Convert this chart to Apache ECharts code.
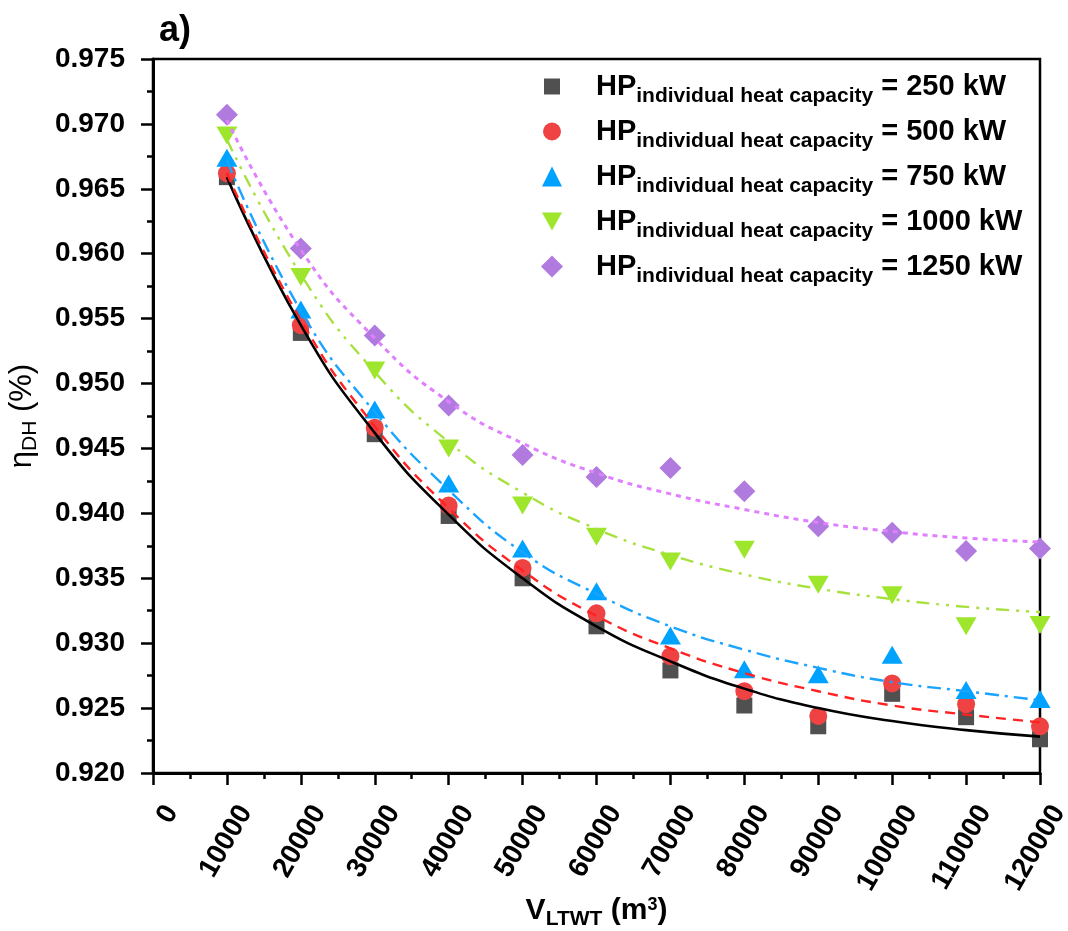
<!DOCTYPE html>
<html><head><meta charset="utf-8">
<script src="https://cdn.jsdelivr.net/npm/echarts@6/dist/echarts.min.js"></script>
<style>html,body{margin:0;padding:0;background:#fff}#c{width:1068px;height:931px}</style>
</head><body><div id="c"></div>
<script>
// ---- data ----
const xValues = [10000, 20000, 30000, 40000, 50000, 60000, 70000, 80000, 90000, 100000, 110000, 120000];
const capacityLabels = ['250', '500', '750', '1000', '1250'];

const hp250  = [0.9659, 0.9539, 0.9461, 0.9398, 0.9350, 0.9313, 0.9279, 0.9252, 0.9236, 0.9261, 0.9243, 0.9226];
const hp500  = [0.9662, 0.9545, 0.9466, 0.9406, 0.9358, 0.9323, 0.9290, 0.9263, 0.9244, 0.9269, 0.9253, 0.9236];
const hp750  = [0.9674, 0.9557, 0.9480, 0.9423, 0.9373, 0.9340, 0.9306, 0.9280, 0.9276, 0.9291, 0.9264, 0.9257];
const hp1000 = [0.9691, 0.9582, 0.9510, 0.9450, 0.9406, 0.9382, 0.9363, 0.9372, 0.9345, 0.9337, 0.9313, 0.9314];
const hp1250 = [0.9707, 0.9604, 0.9537, 0.9483, 0.9445, 0.9428, 0.9435, 0.9417, 0.9390, 0.9385, 0.9371, 0.9373];

// fitted curves
const fit250  = [0.9659, 0.9545, 0.9462, 0.9399, 0.9350, 0.9313, 0.9286, 0.9265, 0.9250, 0.9240, 0.9233, 0.9228];
const fit500  = [0.9662, 0.9549, 0.9467, 0.9404, 0.9356, 0.9321, 0.9296, 0.9277, 0.9263, 0.9252, 0.9245, 0.9239];
const fit750  = [0.9672, 0.9556, 0.9478, 0.9418, 0.9370, 0.9338, 0.9313, 0.9295, 0.9281, 0.9270, 0.9263, 0.9256];
const fit1000 = [0.9688, 0.9584, 0.9509, 0.9455, 0.9416, 0.9388, 0.9368, 0.9353, 0.9342, 0.9334, 0.9328, 0.9324];
const fit1250 = [0.9703, 0.9603, 0.9535, 0.9486, 0.9454, 0.9431, 0.9415, 0.9403, 0.9393, 0.9386, 0.9381, 0.9378];

const yTickMin = 0.920, yTickMax = 0.975, yTickStep = 0.005;
const xTickMin = 0, xTickMax = 120000, xTickStep = 10000;

// ---- styles ----
const FONT = '"Liberation Sans", Arial, Helvetica, sans-serif';
const pointSets = [hp250, hp500, hp750, hp1000, hp1250];
const fitSets = [fit250, fit500, fit750, fit1000, fit1250];
const markerColors = ['#505050', '#ef4242', '#00a2ff', '#9ee62c', '#b07ade'];
const lineColors = ['#000000', '#ff2222', '#1aa3ff', '#a8e040', '#e080ff'];
const lineTypes = ['solid', [10, 7], [14, 6, 3, 6], [13, 7, 3, 7, 3, 7], [5, 5]];
const lineWidths = [2.6, 2.4, 2.4, 2.4, 3];
const symbols = ['rect', 'circle', 'triangle', 'path://M0,0 L20,0 L10,18 Z', 'diamond'];
const symbolSizes = [16, 18, [21, 18], [21, 18], 22];
const legendIconSizes = [16, 18, 20, 20, 22];
const legendCenters = [86, 131, 176, 221, 266];
const legendIconX = 552, legendTextX = 596;

const names = capacityLabels.map(c => 'HP ' + c);

const series = [];
pointSets.forEach((vals, i) => {
  series.push({
    type: 'scatter', name: names[i],
    data: xValues.map((x, j) => [x, vals[j]]),
    symbol: symbols[i], symbolSize: symbolSizes[i],
    itemStyle: { color: markerColors[i], opacity: 1 },
    z: 2, silent: true
  });
});
fitSets.forEach((vals, i) => {
  series.push({
    type: 'line', name: 'fit ' + capacityLabels[i],
    data: xValues.map((x, j) => [x, vals[j]]),
    smooth: true, showSymbol: false, symbol: 'none',
    lineStyle: { color: lineColors[i], width: lineWidths[i], type: lineTypes[i] },
    z: 3, silent: true
  });
});

const legends = names.map((n, i) => {
  const s = legendIconSizes[i];
  const left = legendIconX - s / 2;
  const pad = legendTextX - (left + s + 5);
  return {
    data: [n], left: left, top: legendCenters[i] - 14, padding: 0,
    itemWidth: s, itemHeight: s, selectedMode: false,
    formatter: () => '{m|HP}{s|individual heat capacity}{m| = ' + capacityLabels[i] + ' kW}',
    textStyle: {
      padding: [0, 0, 0, pad],
      rich: {
        m: { fontSize: 29, fontWeight: 'bold', fontFamily: FONT, color: '#000' },
        s: { fontSize: 21, fontWeight: 'bold', fontFamily: FONT, color: '#000', padding: [20, 0, 0, 0] }
      }
    }
  };
});

const tickStyle = { color: '#000', width: 2.5 };

const option = {
  animation: false,
  backgroundColor: '#fff',
  title: { text: 'a)', left: 159, top: 13, padding: 0,
    textStyle: { fontSize: 36, fontWeight: 'bold', color: '#000', fontFamily: FONT } },
  legend: legends,
  grid: { left: 153, right: 28, top: 59, bottom: 158, containLabel: false, outerBoundsMode: 'none',
    show: true, borderColor: '#000', borderWidth: 2.5, backgroundColor: 'transparent' },
  xAxis: {
    type: 'value', min: xTickMin, max: xTickMax, interval: xTickStep,
    axisLine: { show: true, onZero: false, lineStyle: { color: '#000', width: 3 } },
    axisTick: { show: true, length: 12, lineStyle: tickStyle },
    minorTick: { show: true, splitNumber: 2, length: 6, lineStyle: tickStyle },
    splitLine: { show: false },
    axisLabel: { rotate: 60, fontSize: 28, fontWeight: 'bold', color: '#000', fontFamily: FONT,
      margin: 24, verticalAlign: 'top', lineHeight: 43, showMinLabel: true, showMaxLabel: true,
      formatter: v => String(Math.round(v)) },
    name: '{v|V}{sub|LTWT}{v| (m}{sup|3}{v|)}',
    nameLocation: 'middle', nameGap: 118, nameMoveOverlap: false,
    nameTextStyle: {
      rich: {
        v: { fontSize: 30, fontWeight: 'bold', fontFamily: FONT, color: '#000' },
        sub: { fontSize: 21, fontWeight: 'bold', fontFamily: FONT, color: '#000', padding: [18, 0, 0, 0] },
        sup: { fontSize: 18, fontWeight: 'bold', fontFamily: FONT, color: '#000', padding: [0, 0, 10, 0] }
      }
    }
  },
  yAxis: {
    type: 'value', min: yTickMin, max: yTickMax, interval: yTickStep,
    axisLine: { show: true, onZero: false, lineStyle: { color: '#000', width: 3 } },
    axisTick: { show: true, length: 12, lineStyle: tickStyle },
    minorTick: { show: true, splitNumber: 2, length: 6, lineStyle: tickStyle },
    splitLine: { show: false },
    axisLabel: { fontSize: 28, fontWeight: 'bold', color: '#000', fontFamily: FONT, margin: 28,
      showMinLabel: true, showMaxLabel: true,
      formatter: v => v.toFixed(3) },
    name: '{e|η}{s|DH}{e| (%)}',
    nameLocation: 'middle', nameGap: 112, nameRotate: 90, nameMoveOverlap: false,
    nameTextStyle: {
      rich: {
        e: { fontSize: 31, fontFamily: FONT, color: '#000' },
        s: { fontSize: 21, fontFamily: FONT, color: '#000', padding: [16, 0, 0, 0] }
      }
    }
  },
  series: series
};

const chart = echarts.init(document.getElementById('c'), null, { renderer: 'canvas' });
chart.setOption(option);
</script>
</body></html>
